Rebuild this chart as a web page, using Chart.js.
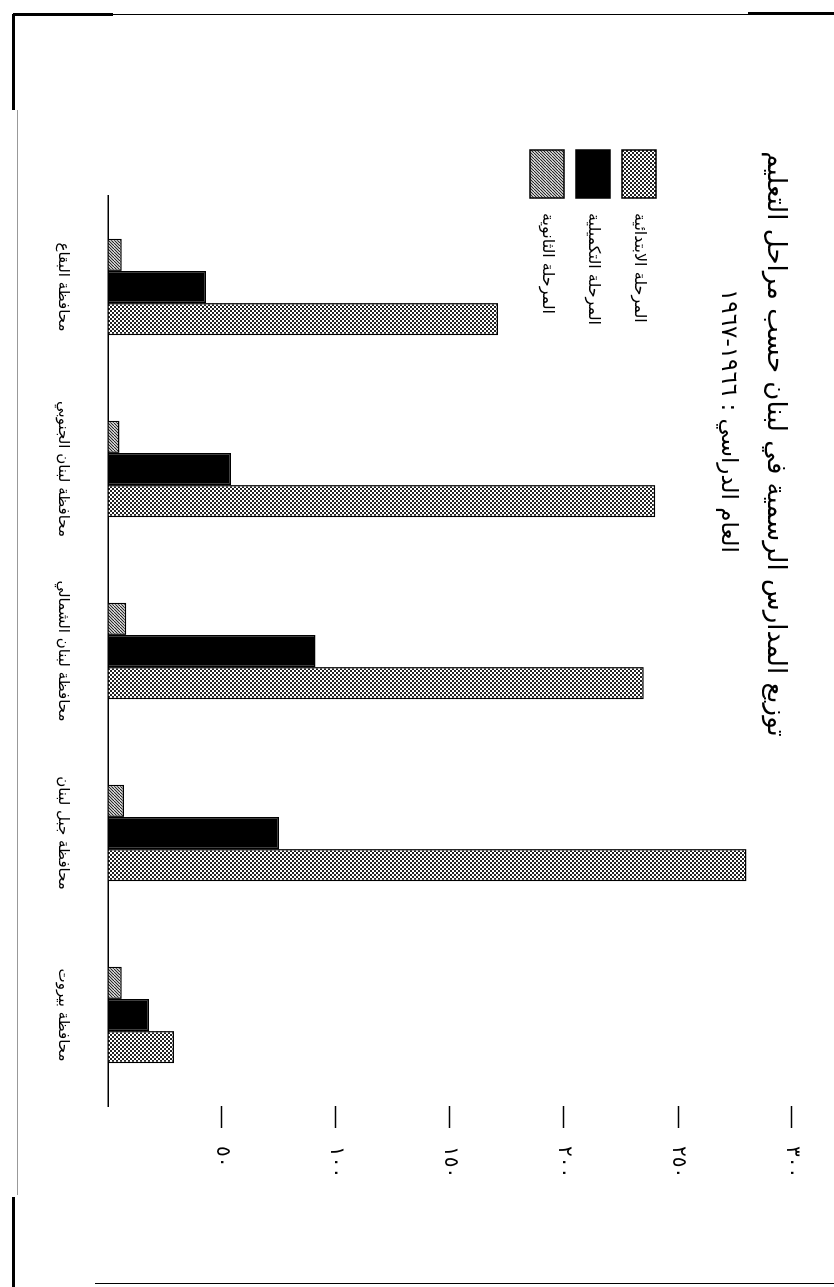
<!DOCTYPE html>
<html lang="ar">
<head>
<meta charset="utf-8">
<title>توزيع المدارس الرسمية في لبنان</title>
<script src="https://cdn.jsdelivr.net/npm/chart.js@4.4.1/dist/chart.umd.min.js"></script>
<style>
  html, body { margin: 0; padding: 0; background: #fff; width: 834px; height: 1287px; overflow: hidden; }
  /* the chart is drawn upright, then the whole sheet is turned a quarter clockwise like the scan */
  #sheet { position: absolute; left: 0; top: 0; width: 1287px; height: 834px;
           transform-origin: 0 0; transform: translateX(834px) rotate(90deg); }
  .rule { position: absolute; background: #000; }
</style>
</head>
<body>
<!-- frame of the scanned page -->
<div class="rule" style="left:13px;top:14px;width:821px;height:1px"></div>
<div class="rule" style="left:13px;top:13px;width:100px;height:3px"></div>
<div class="rule" style="left:748px;top:12px;width:86px;height:3px"></div>
<div class="rule" style="left:12px;top:14px;width:3px;height:96px"></div>
<div class="rule" style="left:17px;top:110px;width:1px;height:1085px;background:#999"></div>
<div class="rule" style="left:12px;top:1197px;width:3px;height:90px"></div>
<div class="rule" style="left:95px;top:1283px;width:739px;height:1px"></div>

<div id="sheet"><canvas id="schoolsChart" width="1287" height="834"></canvas></div>

<script>
// categories, left to right on the upright sheet
const governorates = ['محافظة البقاع', 'محافظة لبنان الجنوبي', 'محافظة لبنان الشمالي', 'محافظة جبل لبنان', 'محافظة بيروت'];

// number of public schools per stage
const secondary = [6, 5, 8, 7, 6];         // المرحلة الثانوية (hatched)
const intermediate = [43, 54, 91, 75, 18]; // المرحلة التكميلية (black)
const primary = [171, 240, 235, 280, 29];  // المرحلة الابتدائية (dotted)

const stageNames = ['المرحلة الثانوية', 'المرحلة التكميلية', 'المرحلة الابتدائية'];
const tickLabels = ['', '٥٠', '١٠٠', '١٥٠', '٢٠٠', '٢٥٠', '٣٠٠'];
const titleLines = ['توزيع المدارس الرسمية في لبنان حسب مراحل التعليم', 'العام الدراسي : ١٩٦٦-١٩٦٧'];

// small fill patterns like the printed shading
function makePattern(kind) {
    const c = document.createElement('canvas');
    const g = c.getContext('2d');
    if (kind === 'dots') {
        c.width = 4; c.height = 4;
        g.fillStyle = '#fff'; g.fillRect(0, 0, 4, 4);
        g.fillStyle = '#222';
        g.fillRect(0, 0, 2, 2); g.fillRect(2, 2, 2, 2);
    } else if (kind === 'hatch') {
        c.width = 6; c.height = 6;
        g.fillStyle = '#fff'; g.fillRect(0, 0, 6, 6);
        g.strokeStyle = '#222'; g.lineWidth = 1.1;
        g.beginPath();
        for (let k = -6; k <= 12; k += 3) { g.moveTo(k, 6); g.lineTo(k + 6, 0); }
        g.stroke();
    } else {
        c.width = 2; c.height = 2;
        g.fillStyle = '#000'; g.fillRect(0, 0, 2, 2);
    }
    return g.createPattern(c, 'repeat');
}

// title and legend are set inside the plot, as on the original sheet
const sheetText = {
    id: 'sheetText',
    afterDraw(chart) {
        const ctx = chart.ctx;
        ctx.save();
        ctx.fillStyle = '#000';
        ctx.direction = 'rtl';
        ctx.textBaseline = 'middle';
        ctx.textAlign = 'center';
        ctx.font = '26px "DejaVu Sans"';
        ctx.fillText(titleLines[0], 444, 59);
        ctx.font = '23px "DejaVu Sans"';
        ctx.fillText(titleLines[1], 421, 106);

        // legend: primary, intermediate, secondary from top
        ctx.font = '16px "DejaVu Sans"';
        ctx.textAlign = 'left';
        [2, 1, 0].forEach((di, row) => {
            const ds = chart.data.datasets[di];
            const y = 178 + row * 46;
            ctx.fillStyle = ds.backgroundColor;
            ctx.fillRect(150, y, 48, 34);
            ctx.lineWidth = 1.5;
            ctx.strokeStyle = '#000';
            ctx.strokeRect(150, y, 48, 34);
            ctx.fillStyle = '#000';
            ctx.fillText(ds.label, 213, y + 17);
        });
        ctx.restore();
    }
};

Chart.defaults.font.family = '"DejaVu Sans", sans-serif';
Chart.defaults.color = '#000';

const ctx = document.getElementById('schoolsChart').getContext('2d');

new Chart(ctx, {
    type: 'bar',
    data: {
        labels: governorates,
        datasets: [
            { label: stageNames[0], data: secondary, backgroundColor: makePattern('hatch') },
            { label: stageNames[1], data: intermediate, backgroundColor: makePattern('solid') },
            { label: stageNames[2], data: primary, backgroundColor: makePattern('dots') }
        ].map(d => Object.assign(d, { borderColor: '#000', borderWidth: 1.5, categoryPercentage: 0.53, barPercentage: 1 }))
    },
    options: {
        responsive: false,
        animation: false,
        layout: { padding: { left: 196, top: 42, right: 91, bottom: 46 } },
        plugins: {
            legend: { display: false },
            title: { display: false },
            tooltip: { enabled: false }
        },
        scales: {
            x: {
                grid: { display: false },
                border: { display: true, color: '#000', width: 1.5 },
                ticks: { padding: 28, font: { size: 15 }, maxRotation: 0, autoSkip: false },
                afterFit(scale) { scale.height = 62; }
            },
            y: {
                position: 'right',
                min: 0,
                max: 300,
                grid: {
                    drawOnChartArea: false,
                    tickLength: 22,
                    tickWidth: 1.5,
                    tickColor: c => (c.tick && c.tick.value === 0) ? 'rgba(0,0,0,0)' : '#000'
                },
                border: { display: false },
                ticks: { stepSize: 50, padding: 18, font: { size: 20 }, callback: (v, i) => tickLabels[i] },
                afterFit(scale) { scale.width = 90; }
            }
        }
    },
    plugins: [sheetText]
});
</script>
</body>
</html>
